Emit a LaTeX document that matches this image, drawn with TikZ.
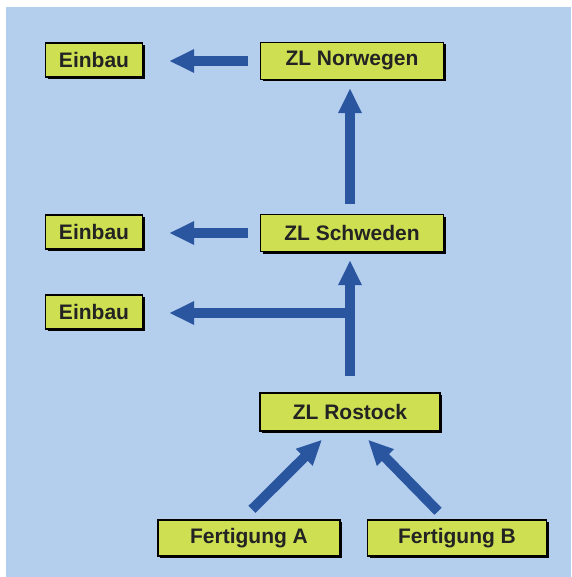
\documentclass[tikz,border=0pt]{standalone}
\usepackage{fontspec}
\setmainfont{Liberation Sans}
\usetikzlibrary{arrows.meta,shadows}
\definecolor{bgBlue}{RGB}{180,206,238}
\definecolor{boxGreen}{RGB}{206,224,82}
\definecolor{flowBlue}{RGB}{42,86,160}
\definecolor{txtGray}{RGB}{35,35,35}

\begin{document}
\begin{tikzpicture}[x=1pt,y=-1pt,
    stock/.style={draw=black, line width=1.4pt, fill=boxGreen, inner sep=0pt,
      text=txtGray, font=\fontsize{21}{24}\selectfont\bfseries,
      drop shadow={shadow xshift=2pt, shadow yshift=-2pt, fill=black, opacity=1}},
    flow/.style={draw=flowBlue, line width=10pt,
      -{Triangle[width=22pt,length=25pt]}}]
  % canvas
  \useasboundingbox (0,0) rectangle (571,577);
  \fill[bgBlue] (6,7) rectangle (571,577);
  % boxes
  \node[stock, minimum width=97pt, minimum height=34pt] (ein1) at (94,60) {Einbau};
  \node[stock, minimum width=183pt, minimum height=37pt] (nor) at (352,61) {ZL Norwegen};
  \node[stock, minimum width=97pt, minimum height=34pt] (ein2) at (94,232) {Einbau};
  \node[stock, minimum width=183pt, minimum height=37pt] (schw) at (352,233) {ZL Schweden};
  \node[stock, minimum width=97pt, minimum height=34pt] (ein3) at (94,312) {Einbau};
  \node[stock, minimum width=180pt, minimum height=38pt] (ros) at (350,412) {ZL Rostock};
  \node[stock, minimum width=182pt, minimum height=36pt] (fa) at (249,538) {Fertigung A};
  \node[stock, minimum width=179pt, minimum height=36pt] (fb) at (457,538) {Fertigung B};
  % junction below ZL Schweden
  \coordinate (split) at (350,313);
  % connectors
  \draw[flow] ([xshift=-12pt]nor.west) -- ([xshift=26pt]nor.west -| ein1.east);
  \draw[flow] ([xshift=-2pt,yshift=10pt]schw.north) -- ([xshift=-2pt,yshift=-8pt]nor.south);
  \draw[flow] ([xshift=-12pt]schw.west) -- ([xshift=26pt]schw.west -| ein2.east);
  \draw[flow] ([yshift=16pt]ros.north) -- ([xshift=-2pt,yshift=-8pt]schw.south);
  \draw[flow] ([xshift=-5pt]split) -- ([xshift=26pt]split -| ein3.east);
  \draw[flow] ([xshift=3pt,yshift=10pt]fa.north) -- ([xshift=-28pt,yshift=-8pt]ros.south);
  \draw[flow] ([xshift=-19pt,yshift=8pt]fb.north) -- ([xshift=18pt,yshift=-8pt]ros.south);
\end{tikzpicture}
\end{document}
